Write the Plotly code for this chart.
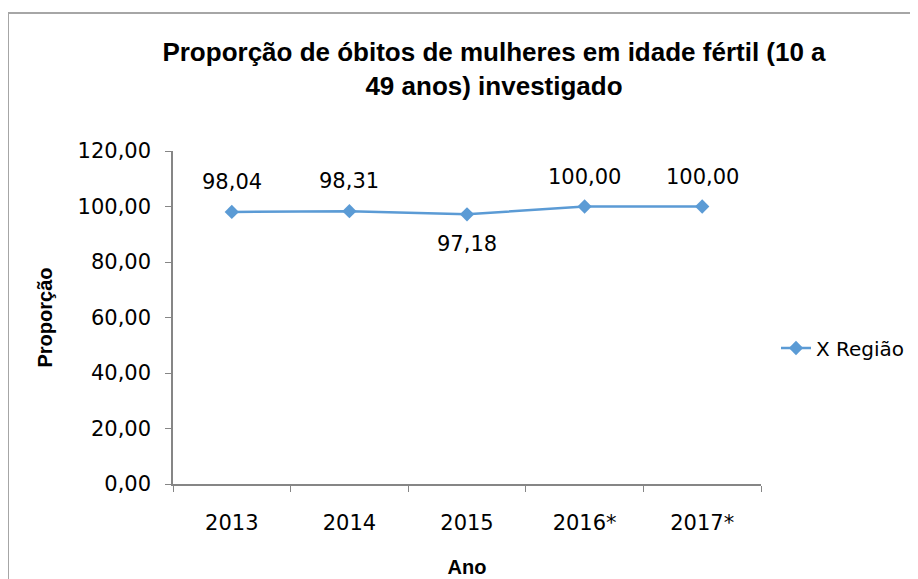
import plotly.graph_objects as go

categories = ["2013", "2014", "2015", "2016*", "2017*"]
values = [98.04, 98.31, 97.18, 100.00, 100.00]
labels = ["98,04", "98,31", "97,18", "100,00", "100,00"]
label_shift = [30, 30, -30, 30, 30]
y_ticks = [0, 20, 40, 60, 80, 100, 120]
y_tick_text = ["0,00", "20,00", "40,00", "60,00", "80,00", "100,00", "120,00"]

W, H = 918, 579
O = 8  # page body offset
# desired screen positions of plot area
SX0, SX1, SY0, SY1 = 173, 761, 151, 484
L = SX0 - O
T = SY0 - O
pw = SX1 - SX0
ph = SY1 - SY0
R = W - L - pw
B = H - T - ph

def px_x(p):
    return (p - SX0) / pw

def px_y(p):
    return (SY1 - p) / ph

TXT = "DejaVu Sans"
BOLD = "Liberation Sans"
COLOR = "#5B9BD5"
AXIS = "#868686"

fig = go.Figure()
fig.add_trace(go.Scatter(
    x=categories, y=values, mode="lines+markers",
    name="X Região",
    line=dict(color=COLOR, width=2.5),
    marker=dict(symbol="diamond", size=11, color=COLOR),
    cliponaxis=False,
))

for i, (v, t, s) in enumerate(zip(values, labels, label_shift)):
    fig.add_annotation(
        x=i, y=v, xref="x", yref="y", text=t, showarrow=False, yshift=s,
        font=dict(family=TXT, size=21, color="#000000"),
    )

fig.update_layout(
    width=W, height=H,
    margin=dict(l=L, r=R, t=T, b=B),
    paper_bgcolor="white", plot_bgcolor="white",
    title=dict(
        text="<b>Proporção de óbitos de mulheres em idade fértil (10 a<br>49 anos) investigado</b>",
        font=dict(family=BOLD, size=26, color="#000000"),
        x=(148 + 840) / 2 / W - O / W, xanchor="center",
        y=1 - 53 / H, yanchor="middle",
    ),
    showlegend=True,
    legend=dict(
        x=px_x(776), y=px_y(348), xanchor="left", yanchor="middle",
        font=dict(family=TXT, size=20, color="#000000"),
        bgcolor="rgba(0,0,0,0)",
    ),
    xaxis=dict(
        type="category",
        showline=True, linecolor=AXIS, linewidth=1.5,
        ticks="outside", tickson="boundaries", ticklen=6, tickcolor=AXIS,
        showgrid=False, zeroline=False,
        ticklabelstandoff=19,
        tickfont=dict(family=TXT, size=21, color="#000000"),
        title=dict(text="<b>Ano</b>", font=dict(family=BOLD, size=20, color="#000000"), standoff=26),
        range=[-0.5, 4.5],
    ),
    yaxis=dict(
        range=[0, 120], tickvals=y_ticks, ticktext=y_tick_text,
        showline=True, linecolor=AXIS, linewidth=1.5,
        ticks="outside", ticklen=6, tickcolor=AXIS,
        showgrid=False, zeroline=False,
        ticklabelstandoff=10,
        tickfont=dict(family=TXT, size=21, color="#000000"),
        title=dict(text="<b>Proporção</b>", font=dict(family=BOLD, size=20, color="#000000"), standoff=20),
    ),
)

fig.add_shape(
    type="rect", xref="paper", yref="paper",
    x0=px_x(8), x1=px_x(960), y0=px_y(640), y1=px_y(13),
    line=dict(color="#A6A6A6", width=2), fillcolor="rgba(0,0,0,0)", layer="below",
)

fig.write_html("out.html")
